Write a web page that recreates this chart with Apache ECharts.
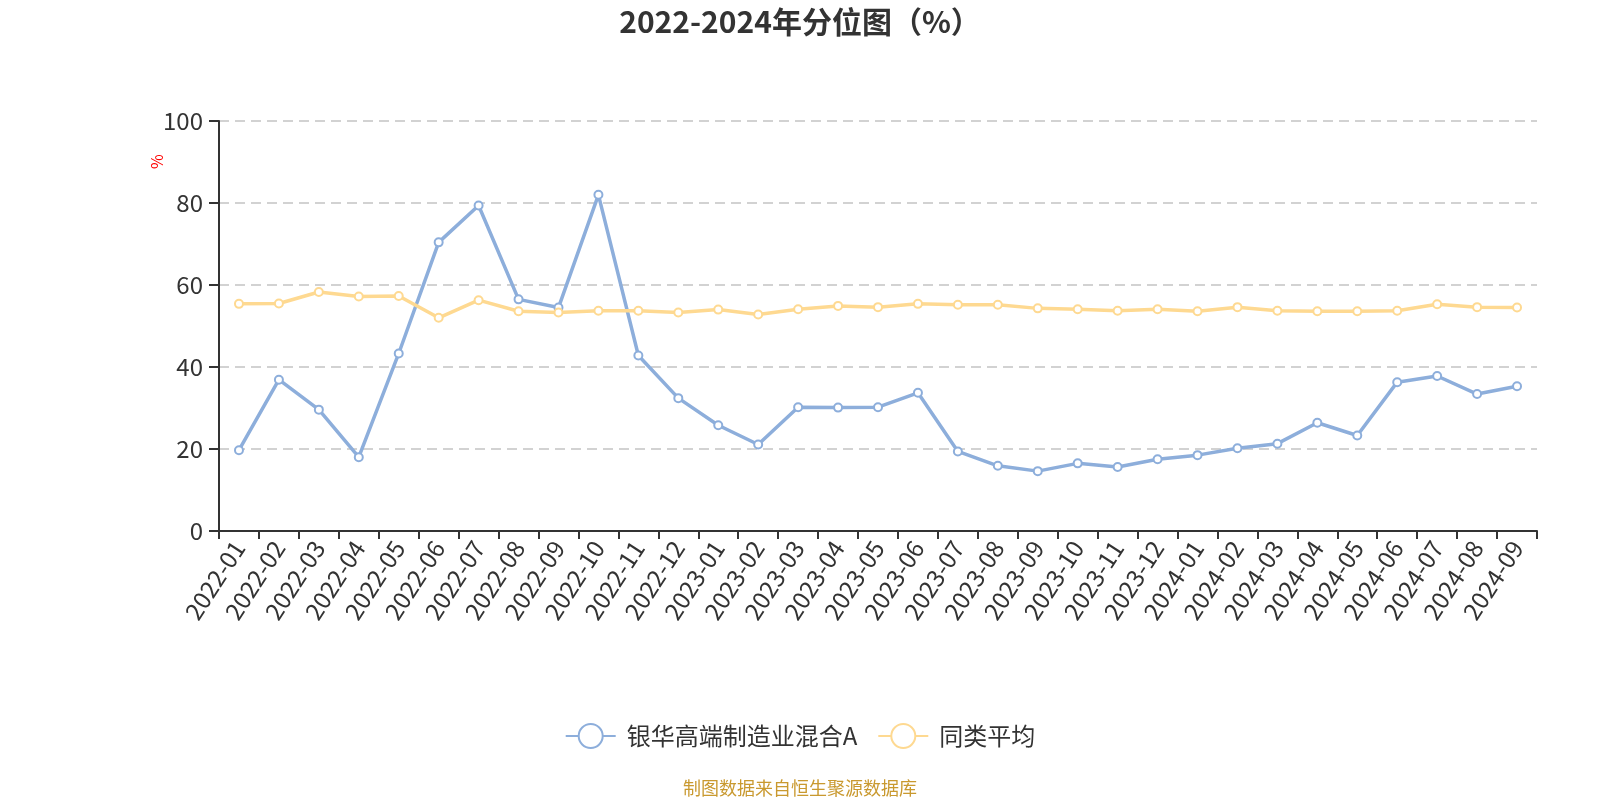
<!DOCTYPE html>
<html>
<head>
<meta charset="utf-8">
<script src="https://cdn.jsdelivr.net/npm/echarts@6/dist/echarts.min.js"></script>
<style>
html,body{margin:0;padding:0;background:#fff;}
#main{width:1600px;height:800px;}
</style>
</head>
<body>
<div id="main"></div>
<script>
var categories = ['2022-01','2022-02','2022-03','2022-04','2022-05','2022-06','2022-07','2022-08','2022-09','2022-10','2022-11','2022-12',
  '2023-01','2023-02','2023-03','2023-04','2023-05','2023-06','2023-07','2023-08','2023-09','2023-10','2023-11','2023-12',
  '2024-01','2024-02','2024-03','2024-04','2024-05','2024-06','2024-07','2024-08','2024-09'];
var fundValues = [19.7,36.9,29.6,18.0,43.3,70.4,79.4,56.5,54.5,82.0,42.8,32.4,
  25.8,21.1,30.2,30.1,30.2,33.7,19.4,15.9,14.6,16.5,15.6,17.5,
  18.5,20.2,21.3,26.4,23.3,36.3,37.8,33.4,35.3];
var avgValues = [55.4,55.5,58.3,57.2,57.3,52.0,56.3,53.6,53.3,53.7,53.7,53.3,
  54.0,52.8,54.1,54.9,54.6,55.4,55.2,55.2,54.3,54.1,53.7,54.1,
  53.6,54.6,53.7,53.6,53.6,53.7,55.3,54.6,54.5];
var yTicks = [0,20,40,60,80,100];
var seriesNames = ['银华高端制造业混合A','同类平均'];

var chart = echarts.init(document.getElementById('main'));
var FONT = '"Noto Sans CJK SC","Noto Sans",sans-serif';
chart.setOption({
  animation: false,
  textStyle: {fontFamily: FONT},
  title: {
    text: '2022-2024年分位图（%）',
    left: 'center', top: 2,
    textStyle: {fontSize: 30, fontWeight: 'bold', color: '#333', fontFamily: FONT}
  },
  legend: {
    bottom: 46, left: 'center',
    itemWidth: 50, itemHeight: 30, itemGap: 20,
    textStyle: {fontSize: 24, color: '#333', fontFamily: FONT, padding: [0,0,0,6]},
    data: seriesNames
  },
  graphic: [
    {type:'text', left:'center', top: 779,
     style:{text:'制图数据来自恒生聚源数据库', fill:'#c9992f', fontSize:18, fontFamily: FONT}},
    {type:'text', x: 149, y: 169, rotation: Math.PI/2,
     style:{text:'%', fill:'#ff0000', fontSize:16, fontFamily: FONT}}
  ],
  grid: {left: 219, right: 63, top: 121, bottom: 269},
  xAxis: {
    type: 'category', data: categories, boundaryGap: true,
    axisLine: {lineStyle: {color: '#333', width: 2}},
    axisTick: {show: true, length: 8, lineStyle: {width: 2}, alignWithLabel: false},
    axisLabel: {rotate: 57, fontSize: 24, color: '#333', margin: 12, interval: 0, fontFamily: FONT},
    splitLine: {show: false}
  },
  yAxis: {
    type: 'value', min: yTicks[0], max: yTicks[yTicks.length-1], interval: 20,
    axisLine: {show: true, lineStyle: {color: '#333', width: 2}},
    axisTick: {show: true, length: 10, lineStyle: {width: 2}},
    axisLabel: {fontSize: 24, color: '#333', margin: 16, fontFamily: FONT},
    splitLine: {show: true, lineStyle: {color: '#c4c4c4', type: [10,6], width: 1.5}}
  },
  series: [
    {name: seriesNames[0], type: 'line', data: fundValues,
     symbol: 'emptyCircle', symbolSize: 8,
     lineStyle: {color: '#8daedb', width: 3.5},
     itemStyle: {color: '#8daedb', borderWidth: 2}},
    {name: seriesNames[1], type: 'line', data: avgValues,
     symbol: 'emptyCircle', symbolSize: 8,
     lineStyle: {color: '#fed991', width: 3.5},
     itemStyle: {color: '#fed991', borderWidth: 2}}
  ]
});
</script>
</body>
</html>
